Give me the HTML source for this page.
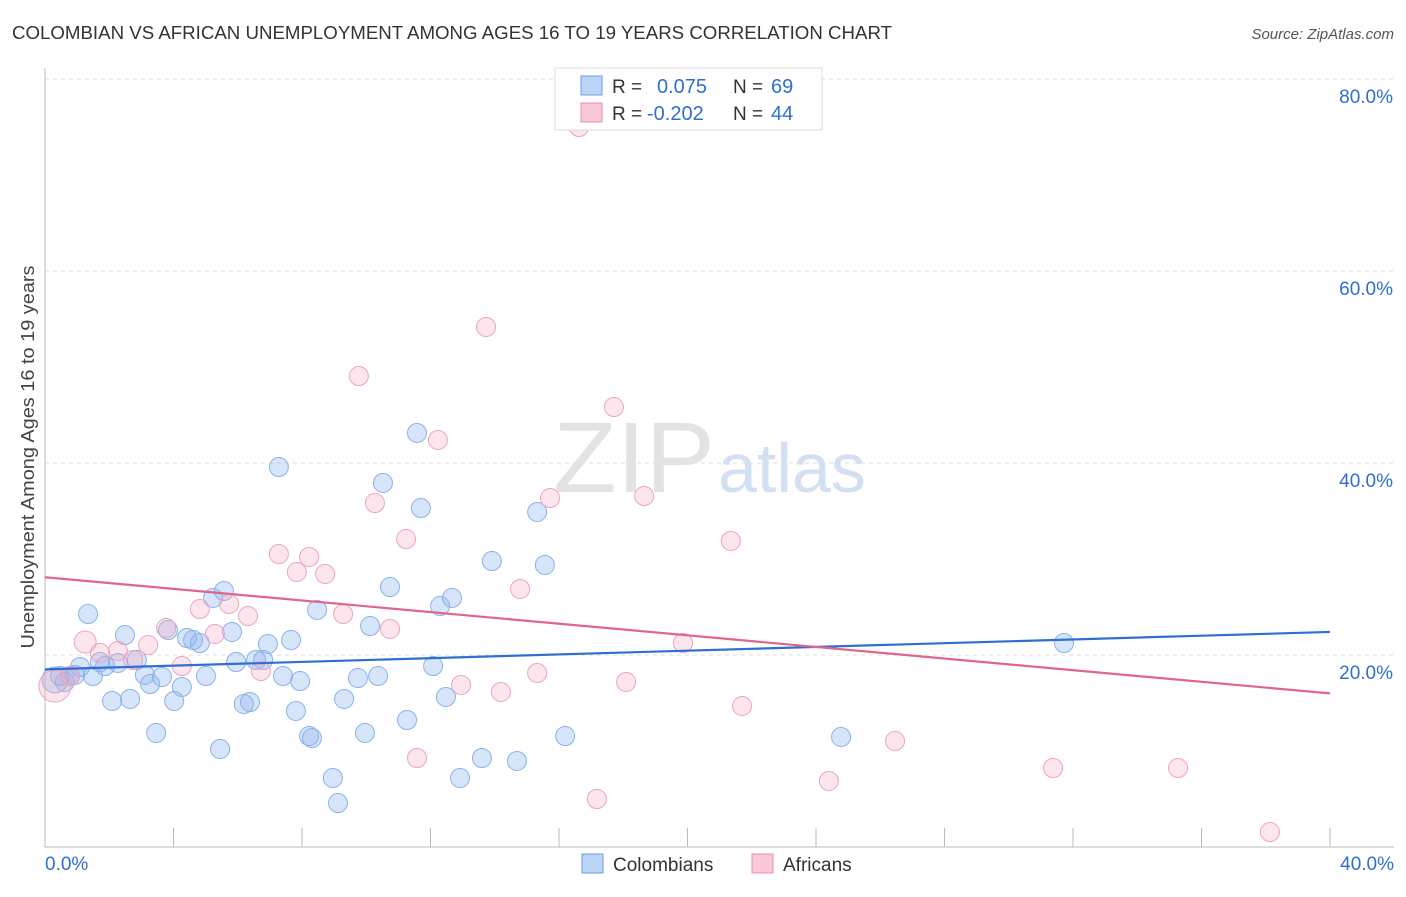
<!DOCTYPE html>
<html><head><meta charset="utf-8"><style>
body{margin:0;background:#fff;font-family:"Liberation Sans",sans-serif;}
svg text{font-family:"Liberation Sans",sans-serif;}
</style></head><body>
<svg id="chart" width="1406" height="892">
<text x="12" y="39" font-size="18" fill="#333" textLength="880" lengthAdjust="spacingAndGlyphs">COLOMBIAN VS AFRICAN UNEMPLOYMENT AMONG AGES 16 TO 19 YEARS CORRELATION CHART</text>
<text x="1394" y="39" font-size="15" fill="#555" text-anchor="end" font-style="italic">Source: ZipAtlas.com</text>
<text x="0" y="0" font-size="18" fill="#444" transform="translate(34,457) rotate(-90)" text-anchor="middle" textLength="383" lengthAdjust="spacingAndGlyphs">Unemployment Among Ages 16 to 19 years</text>
<g id="grid"></g>
<text x="553" y="492" font-size="100" fill="#e3e3e3" font-family="Liberation Serif" textLength="162" lengthAdjust="spacingAndGlyphs">ZIP</text>
<text x="718" y="492" font-size="70" fill="#d3e0f3">atlas</text>
<g id="marks"></g>
<g>
<rect x="555" y="68" width="267" height="62" fill="#fff" stroke="#ddd"/>
<rect x="581" y="76" width="21" height="19" fill="#bcd4f6" stroke="#6a9ee0"/>
<rect x="581" y="103" width="21" height="19" fill="#f9c8d8" stroke="#e890b0"/>
<text x="612" y="93" font-size="19" fill="#333">R =</text>
<text x="657" y="93" font-size="20" fill="#2f6fd0">0.075</text>
<text x="733" y="93" font-size="19" fill="#333">N =</text>
<text x="771" y="93" font-size="20" fill="#2f6fd0">69</text>
<text x="612" y="120" font-size="19" fill="#333">R =</text>
<text x="647" y="120" font-size="20" fill="#2f6fd0">-0.202</text>
<text x="733" y="120" font-size="19" fill="#333">N =</text>
<text x="771" y="120" font-size="20" fill="#2f6fd0">44</text>
</g>
<g>
<rect x="582" y="854" width="21" height="19" fill="#bcd4f6" stroke="#6a9ee0"/>
<text x="613" y="871" font-size="19" fill="#333">Colombians</text>
<rect x="752" y="854" width="21" height="19" fill="#f9c8d8" stroke="#e890b0"/>
<text x="783" y="871" font-size="19" fill="#333">Africans</text>
</g>
<text x="45" y="870" font-size="19" fill="#2f6fd0">0.0%</text>
<text x="1394" y="870" font-size="19" fill="#2f6fd0" text-anchor="end">40.0%</text>
</svg>
<script>
const yTicks=[20,40,60,80];
const yTickLabels=["20.0%","40.0%","60.0%","80.0%"];
const xTicks=[0,4,8,12,16,20,24,28,32,36,40];
const bluePx=[[55,680],[60,676],[65,682],[70,676],[75,675],[80,667],[88,614],[93,676],[100,662],[105,666],[112,701],[118,663],[125,635],[130,699],[137,660],[145,675],[150,684],[156,733],[162,677],[168,630],[174,701],[182,687],[187,638],[193,640],[200,643],[206,676],[213,598],[220,749],[224,591],[232,632],[236,662],[244,704],[250,702],[256,660],[263,660],[268,644],[279,467],[283,676],[291,640],[296,711],[300,681],[309,736],[312,738],[317,610],[333,778],[338,803],[344,699],[358,678],[365,733],[370,626],[378,676],[383,483],[390,587],[407,720],[417,433],[421,508],[433,666],[440,606],[446,697],[452,598],[460,778],[482,758],[492,561],[517,761],[537,512],[545,565],[565,736],[841,737],[1064,643]];
const pinkPx=[[55,686],[70,676],[85,642],[100,653],[118,651],[133,660],[148,645],[166,628],[182,666],[200,609],[215,634],[229,604],[248,616],[261,671],[279,554],[297,572],[309,557],[325,574],[343,614],[359,376],[375,503],[390,629],[406,539],[417,758],[438,440],[461,685],[486,327],[501,692],[520,589],[537,673],[550,498],[579,127],[597,799],[614,407],[626,682],[644,496],[683,643],[731,541],[742,706],[829,781],[895,741],[1053,768],[1178,768],[1270,832]];
const blueX=bluePx.map(p=>+((p[0]-45)/32.125).toFixed(2));
const blueY=bluePx.map(p=>+((847-p[1])/9.6).toFixed(2));
const pinkX=pinkPx.map(p=>+((p[0]-45)/32.125).toFixed(2));
const pinkY=pinkPx.map(p=>+((847-p[1])/9.6).toFixed(2));
const blueLine=[[0,18.5],[40,22.4]];
const pinkLine=[[0,28.1],[40,16.0]];
const sx=v=>45+v*32.125, sy=v=>847-v*9.6;
const NS="http://www.w3.org/2000/svg";
const grid=document.getElementById('grid'), marks=document.getElementById('marks');
function mk(tag,attrs,parent){const e=document.createElementNS(NS,tag);for(const k in attrs)e.setAttribute(k,attrs[k]);parent.appendChild(e);return e;}
yTicks.forEach((t,i)=>{
 const l=mk('line',{x1:45,x2:1394,y1:sy(t),y2:sy(t),stroke:'#ddd','stroke-dasharray':'4,4'},grid);
 
 
 const tx=mk('text',{x:1393,y:sy(t)+24,'font-size':19,fill:'#2f6fd0','text-anchor':'end'},grid);
 tx.textContent=yTickLabels[i];
 
 
});
const ax=mk('line',{x1:45,x2:1394,y1:847,y2:847,stroke:'#bbb'},grid);


const ay=mk('line',{x1:45,x2:45,y1:68,y2:847,stroke:'#bbb'},grid);


xTicks.forEach(t=>{
 const l=mk('line',{x1:sx(t),x2:sx(t),y1:828,y2:847,stroke:'#bbb'},grid);
 
 
});
function pts(X,Y,fill,stroke,name){
 X.forEach((x,i)=>{
  const big=(i===0&&name==='africans-point')?16:(i===2&&name==='africans-point')?11:(i===0?13:9.5);
  const c=mk('circle',{cx:sx(x),cy:sy(Y[i]),r:big,fill:fill,stroke:stroke,'stroke-width':1},marks);
  
  
 });
}
pts(blueX,blueY,'rgba(140,180,240,0.35)','#8ab2e8','colombians-point');
pts(pinkX,pinkY,'rgba(245,170,195,0.3)','#eca4bf','africans-point');
const bl=mk('line',{x1:sx(blueLine[0][0]),y1:sy(blueLine[0][1]),x2:sx(blueLine[1][0]),y2:sy(blueLine[1][1]),stroke:'#2f6fd0','stroke-width':2.2},marks);


const pl=mk('line',{x1:sx(pinkLine[0][0]),y1:sy(pinkLine[0][1]),x2:sx(pinkLine[1][0]),y2:sy(pinkLine[1][1]),stroke:'#e0648f','stroke-width':2.2},marks);


</script>
</body></html>
